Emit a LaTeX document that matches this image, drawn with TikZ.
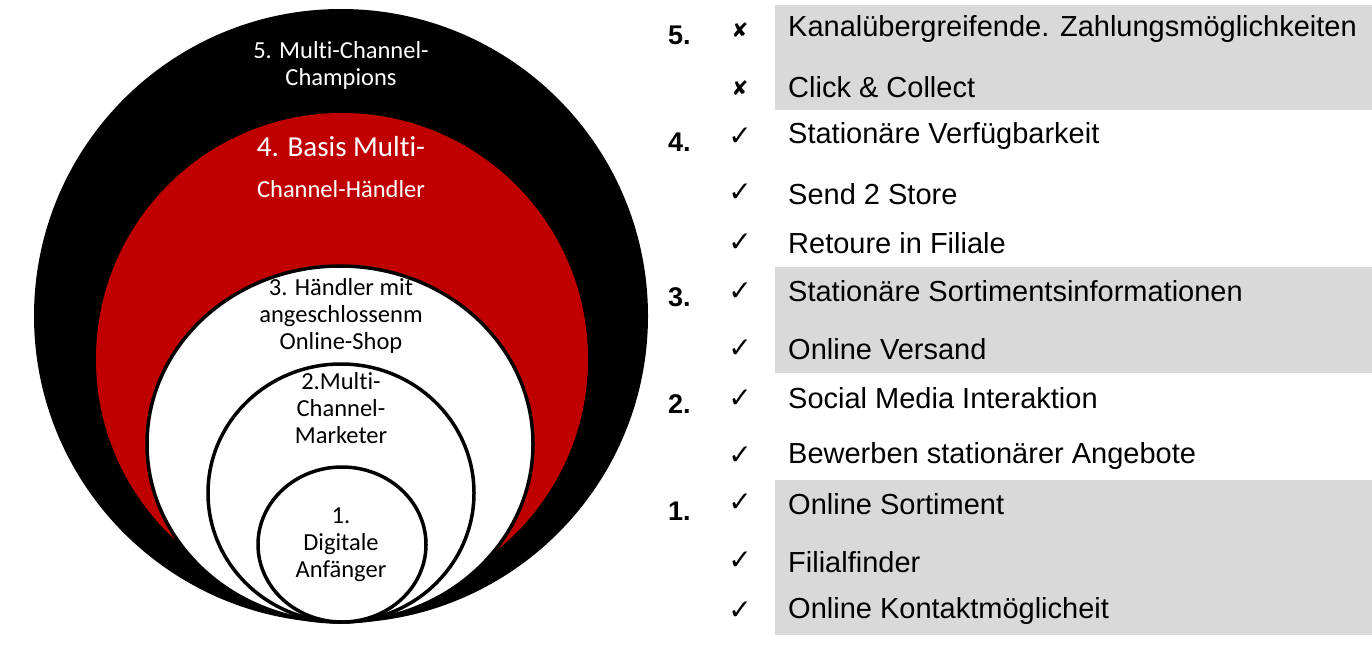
\documentclass[tikz,border=0pt]{standalone}
\usepackage{fontspec}
\setmainfont{Liberation Sans}
\newfontfamily\calfont[Ligatures=NoCommon]{Carlito}
\newfontfamily\symfont{DejaVu Sans}
\definecolor{dred}{HTML}{C00000}
\definecolor{lgray}{HTML}{D9D9D9}
\begin{document}
\begin{tikzpicture}[x=1pt,y=-1pt,
  ring/.style={draw=black, line width=3.5pt, fill=white},
  ctext/.style={font=\calfont\fontsize{24.5}{27}\selectfont, align=center, inner sep=0pt},
  wtext/.style={ctext, text=white},
  item/.style={anchor=west, font=\fontsize{29}{29}\selectfont, inner sep=0pt},
  lvl/.style={anchor=west, font=\bfseries\fontsize{27}{27}\selectfont, inner sep=0pt},
  tick/.style={font=\symfont\fontsize{28}{28}\selectfont, inner sep=0pt, yshift=-3pt},
  cross/.style={font=\symfont\fontsize{20}{20}\selectfont, inner sep=0pt, yshift=-2pt}]
\useasboundingbox (0,0) rectangle (1372,647);
% grey bands
\fill[lgray] (775,5) rectangle (1372,110);
\fill[lgray] (775,267) rectangle (1372,373);
\fill[lgray] (775,480) rectangle (1372,635);
% circles
\fill[black] (341,316) circle[radius=307];
\fill[dred] (342,359) circle[radius=246];
\draw[ring] (340,444) ellipse[x radius=193, y radius=178];
\draw[ring] (341,493) ellipse[x radius=133, y radius=129];
\draw[ring] (342,544.5) ellipse[x radius=84, y radius=77.5];
% circle labels
\node[wtext] (c5) at (341,65) {5. Multi-Channel-\\Champions};
\node[wtext, font=\calfont\fontsize{29}{29}\selectfont] (c4a) at (341,147) {4. Basis Multi-};
\node[wtext] (c4b) at (341,189) {Channel-Händler};
\node[ctext] (c3) at (341,316) {3. Händler mit\\angeschlossenm\\Online-Shop};
\node[ctext] (c2) at (341,408) {2.Multi-\\Channel-\\Marketer};
\node[ctext] (c1) at (341,545) {1.\\Digitale\\Anfänger};
% level numbers
\node[lvl] (l5) at (668,35) {5.};
\node[lvl] (l4) at (668,142) {4.};
\node[lvl] (l3) at (668,297) {3.};
\node[lvl] (l2) at (668,404) {2.};
\node[lvl] (l1) at (668,511) {1.};
% marks
\node[cross] (m1) at (740,28) {✘};
\node[cross] (m2) at (740,86) {✘};
\node[tick] (m3) at (740,134) {✓};
\node[tick] (m4) at (740,190) {✓};
\node[tick] (m5) at (740,240) {✓};
\node[tick] (m6) at (740,289) {✓};
\node[tick] (m7) at (740,346) {✓};
\node[tick] (m8) at (740,396) {✓};
\node[tick] (m9) at (740,453) {✓};
\node[tick] (m10) at (740,500) {✓};
\node[tick] (m11) at (740,558) {✓};
\node[tick] (m12) at (740,608) {✓};
% items
\node[item] (t1) at (788,29) {Kanalübergreifende. Zahlungsmöglichkeiten};
\node[item] (t2) at (788,87) {Click \& Collect};
\node[item] (t3) at (788,136) {Stationäre Verfügbarkeit};
\node[item] (t4) at (788,194) {Send 2 Store};
\node[item] (t5) at (788,243) {Retoure in Filiale};
\node[item] (t6) at (788,291) {Stationäre Sortimentsinformationen};
\node[item] (t7) at (788,349) {Online Versand};
\node[item] (t8) at (788,398) {Social Media Interaktion};
\node[item] (t9) at (788,456) {Bewerben stationärer Angebote};
\node[item] (t10) at (788,504) {Online Sortiment};
\node[item] (t11) at (788,562) {Filialfinder};
\node[item] (t12) at (788,611) {Online Kontaktmöglicheit};
\end{tikzpicture}
\end{document}
